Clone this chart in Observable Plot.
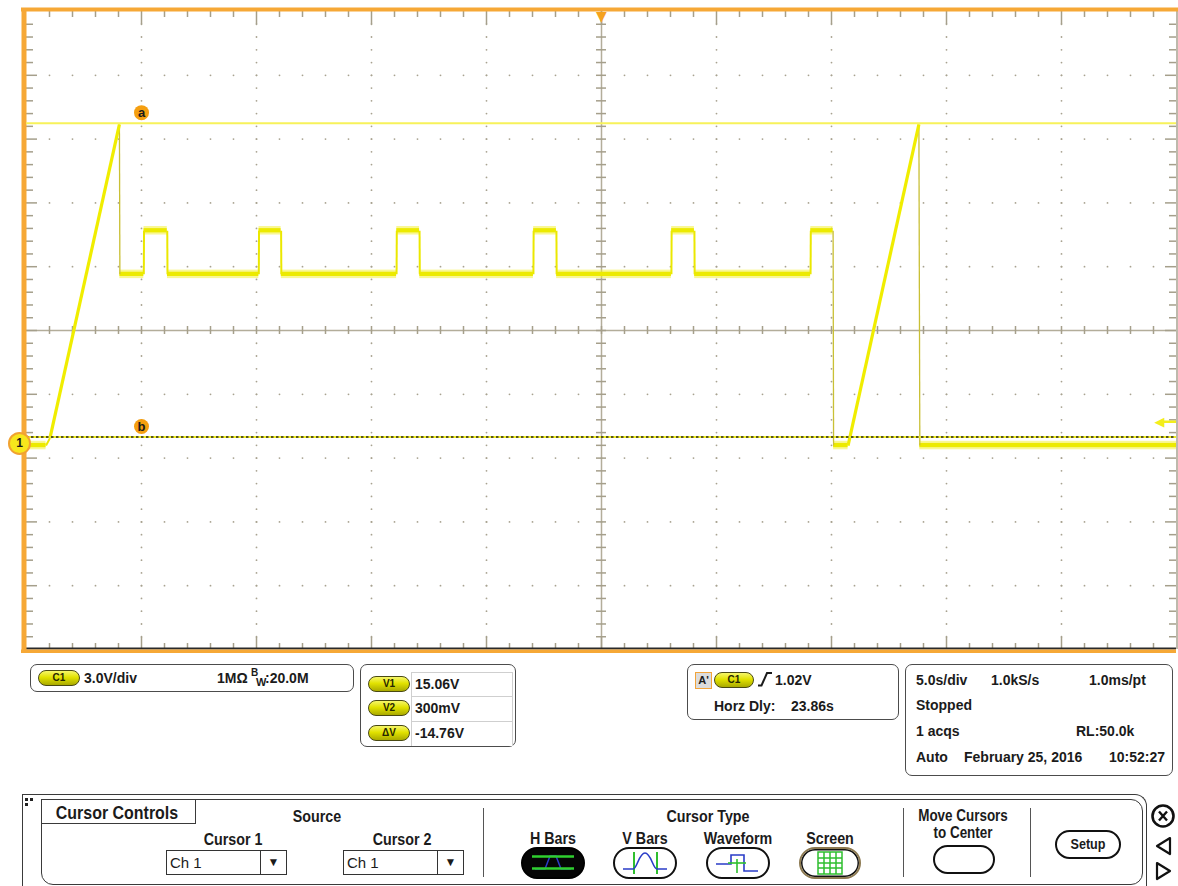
<!DOCTYPE html>
<html>
<head>
<meta charset="utf-8">
<title>Ch1 capture</title>
<script src="https://cdn.jsdelivr.net/npm/d3@7"></script>
<script src="https://cdn.jsdelivr.net/npm/@observablehq/plot@0.6"></script>
<style>
  html, body { margin:0; padding:0; background:#fff; }
  body { width:1178px; height:886px; position:relative; overflow:hidden;
         font-family:"Liberation Sans", Arial, sans-serif; font-weight:bold; color:#1b1b1b; }
  #scope { position:absolute; left:0; top:0; }
  .box { position:absolute; box-sizing:border-box; border:1.5px solid #4c4c4c; border-radius:7px; }
  .t { position:absolute; font-size:14px; line-height:14px; white-space:nowrap; }
  .pill { position:absolute; box-sizing:border-box; width:42px; height:16px; border-radius:8px;
          border:1px solid #4a4a12;
          background:linear-gradient(#f6f66a, #e2e200 45%, #aaaa00);
          font-size:10px; line-height:14px; text-align:center; color:#262600; }
  .cell { position:absolute; box-sizing:border-box; border:1px solid #cfcfcf; background:#fff; }
  .lbl { position:absolute; white-space:nowrap; transform:translateX(-50%) scaleX(0.84);
         font-size:17px; line-height:17px; }
  .btn { position:absolute; box-sizing:border-box; border:2px solid #111; border-radius:16px; background:#fff; }
  .vsep { position:absolute; width:0; border-left:1.5px solid #555; }
  .dd { position:absolute; box-sizing:border-box; border:1px solid #333; height:25px; width:121px; background:#fff;
        font-weight:normal; font-size:15px; line-height:23px; }
  .dd .arr { position:absolute; right:0; top:0; width:25px; height:23px; border-left:1px solid #333;
             text-align:center; font-size:12px; font-weight:bold; }
  svg.icon { position:absolute; overflow:visible; }
</style>
</head>
<body>
<div id="scope"></div>

<!-- channel readout -->
<div class="box" style="left:30px;top:664px;width:324px;height:28px"></div>
<div class="pill" style="left:38px;top:670px">C1</div>
<div class="t" style="left:84px;top:671px">3.0V/div</div>
<div class="t" style="left:217px;top:671px">1MΩ</div>
<div class="t" style="left:251px;top:666px;font-size:10px">B</div>
<div class="t" style="left:256px;top:675px;font-size:11px">W</div>
<div class="t" style="left:265px;top:671px">:20.0M</div>

<!-- cursor readout -->
<div class="box" style="left:360px;top:664px;width:156px;height:83px"></div>
<div class="cell" style="left:411px;top:672px;width:102px;height:25px"></div>
<div class="cell" style="left:411px;top:696px;width:102px;height:26px"></div>
<div class="cell" style="left:411px;top:721px;width:102px;height:25px;border-bottom:none"></div>
<div class="pill" style="left:368px;top:676px">V1</div>
<div class="pill" style="left:368px;top:700px">V2</div>
<div class="pill" style="left:368px;top:725px">ΔV</div>
<div class="t" id="rv1" style="left:415px;top:677px"></div>
<div class="t" id="rv2" style="left:415px;top:701px"></div>
<div class="t" id="rdv" style="left:415px;top:726px"></div>

<!-- trigger readout -->
<div class="box" style="left:687px;top:664px;width:212px;height:56px"></div>
<div style="position:absolute;left:695px;top:672px;width:17px;height:17px;box-sizing:border-box;border:1.5px solid #f2a43a;background:#dcdcdc;font-size:11px;line-height:14px;text-align:center">A'</div>
<div class="pill" style="left:714px;top:672px;width:40px">C1</div>
<svg class="icon" style="left:757px;top:671px" width="16" height="16"><path d="M1,14.5 H4.5 L10,2 H15" fill="none" stroke="#1b1b1b" stroke-width="2"/></svg>
<div class="t" id="rtrig" style="left:775px;top:673px"></div>
<div class="t" style="left:714px;top:699px">Horz Dly:</div>
<div class="t" style="left:791px;top:699px">23.86s</div>

<!-- acquisition readout -->
<div class="box" style="left:905px;top:664px;width:268px;height:112px"></div>
<div class="t" style="left:916px;top:673px">5.0s/div</div>
<div class="t" style="left:991px;top:673px">1.0kS/s</div>
<div class="t" style="left:1089px;top:673px">1.0ms/pt</div>
<div class="t" style="left:916px;top:698px">Stopped</div>
<div class="t" style="left:916px;top:724px">1 acqs</div>
<div class="t" style="left:1076px;top:724px">RL:50.0k</div>
<div class="t" style="left:916px;top:750px">Auto</div>
<div class="t" style="left:964px;top:750px">February 25, 2016</div>
<div class="t" style="left:1109px;top:750px">10:52:27</div>

<!-- cursor control panel -->
<div style="position:absolute;left:22px;top:794px;width:1125px;height:130px;box-sizing:border-box;border:1.5px solid #3a3a3a;border-bottom:none;border-top-right-radius:12px"></div>
<div style="position:absolute;left:41px;top:799px;width:1102px;height:86px;box-sizing:border-box;border:1px solid #3a3a3a;border-radius:0 12px 12px 12px"></div>
<div style="position:absolute;left:25px;top:798px;width:3px;height:3px;background:#222"></div>
<div style="position:absolute;left:30px;top:798px;width:3px;height:3px;background:#222"></div>
<div style="position:absolute;left:25px;top:803px;width:3px;height:3px;background:#222"></div>
<div style="position:absolute;left:41px;top:799px;width:155px;height:25px;box-sizing:border-box;border:1px solid #3a3a3a;border-top:none"></div>
<div class="lbl" style="left:117px;top:803px;font-size:19px;line-height:19px">Cursor Controls</div>

<div class="lbl" style="left:317px;top:808px">Source</div>
<div class="lbl" style="left:233px;top:831px">Cursor 1</div>
<div class="lbl" style="left:402px;top:831px">Cursor 2</div>
<div class="dd" style="left:166px;top:850px"><span style="padding-left:3px">Ch 1</span><div class="arr">▼</div></div>
<div class="dd" style="left:343px;top:850px"><span style="padding-left:3px">Ch 1</span><div class="arr">▼</div></div>
<div class="vsep" style="left:483px;top:808px;height:69px"></div>

<div class="lbl" style="left:708px;top:808px">Cursor Type</div>
<div class="lbl" style="left:553px;top:830px">H Bars</div>
<div class="lbl" style="left:645px;top:830px">V Bars</div>
<div class="lbl" style="left:738px;top:830px">Waveform</div>
<div class="lbl" style="left:830px;top:830px">Screen</div>

<div class="btn" style="left:521px;top:847px;width:64px;height:32px;background:#050505;border-color:#000"></div>
<svg class="icon" style="left:521px;top:847px" width="64" height="32">
  <path d="M14,22 L24,22 L29,9 L35,9 L40,22 L50,22" fill="none" stroke="#2a3cc8" stroke-width="1.5"/>
  <line x1="11" y1="9.5" x2="53" y2="9.5" stroke="#2fd02f" stroke-width="2.5"/>
  <line x1="11" y1="21.5" x2="53" y2="21.5" stroke="#2fd02f" stroke-width="2.5"/>
</svg>
<div class="btn" style="left:613px;top:847px;width:64px;height:32px"></div>
<svg class="icon" style="left:613px;top:847px" width="64" height="32">
  <line x1="21" y1="5" x2="21" y2="27" stroke="#2fbf2f" stroke-width="2"/>
  <line x1="44" y1="5" x2="44" y2="27" stroke="#2fbf2f" stroke-width="2"/>
  <path d="M10,22 L20,22 C24,22 26,6 32,6 C38,6 40,22 44,22 L54,22" fill="none" stroke="#2a3cc8" stroke-width="1.6"/>
</svg>
<div class="btn" style="left:706px;top:847px;width:64px;height:32px"></div>
<svg class="icon" style="left:706px;top:847px" width="64" height="32">
  <path d="M10,17 L25,17 L25,8 L38,8 L38,24 L52,24" fill="none" stroke="#2a3cc8" stroke-width="1.6"/>
  <line x1="31" y1="12" x2="31" y2="26" stroke="#2fbf2f" stroke-width="1.6"/>
  <line x1="22" y1="16" x2="40" y2="16" stroke="#2fbf2f" stroke-width="1.6"/>
</svg>
<div class="btn" style="left:799px;top:847px;width:62px;height:32px;border:2.5px solid #8d7a52;box-shadow:inset 0 0 0 1.5px #111"></div>
<svg class="icon" style="left:799px;top:847px" width="62" height="32">
  <rect x="19" y="5" width="24" height="22" fill="#fff" stroke="#2fbf2f" stroke-width="1.5"/>
  <path d="M25,5 V27 M31,5 V27 M37,5 V27 M19,11 H43 M19,16 H43 M19,21 H43" stroke="#2fbf2f" stroke-width="1.5"/>
</svg>
<div class="vsep" style="left:903px;top:808px;height:69px"></div>

<div class="lbl" style="left:963px;top:807px;font-size:16px">Move Cursors</div>
<div class="lbl" style="left:963px;top:824px;font-size:16px">to Center</div>
<div class="btn" style="left:933px;top:845px;width:62px;height:29px"></div>
<div class="vsep" style="left:1030px;top:808px;height:69px"></div>
<div class="btn" style="left:1055px;top:830px;width:66px;height:29px;border-radius:15px"></div>
<div class="lbl" style="left:1088px;top:836px;font-size:15px;line-height:15px">Setup</div>

<svg class="icon" style="left:1150px;top:803px" width="26" height="82">
  <circle cx="13" cy="13" r="10.5" fill="#fff" stroke="#111" stroke-width="2.6"/>
  <path d="M9,8.5 L17,17.5 M17,8.5 L9,17.5" stroke="#111" stroke-width="2.4"/>
  <path d="M20,35 L7,43 L20,51 Z" fill="#fff" stroke="#111" stroke-width="2.2" stroke-linejoin="round"/>
  <path d="M7,60 L20,68 L7,76 Z" fill="#fff" stroke="#111" stroke-width="2.2" stroke-linejoin="round"/>
</svg>

<script>
// Channel 1 record: time (s from left graticule edge) and volts at each corner of the waveform
const traceTime  = [0, 0.85, 1.02, 4.04, 4.06, 5.10, 5.11, 6.12, 6.13, 10.10, 10.11, 11.07, 11.08,
                    16.09, 16.10, 17.09, 17.10, 22.04, 22.05, 23.04, 23.05, 28.04, 28.05, 29.04, 29.05,
                    34.09, 34.10, 35.07, 35.09, 35.72, 38.80, 38.84, 50];
const traceVolts = [-0.1, -0.1, 0.25, 15.0, 7.95, 7.95, 10.0, 10.0, 7.95, 7.95, 10.0, 10.0, 7.95,
                    7.95, 10.0, 10.0, 7.95, 7.95, 10.0, 10.0, 7.95, 7.95, 10.0, 10.0, 7.95,
                    7.95, 10.0, 10.0, -0.1, -0.1, 15.0, -0.1, -0.1];

// H-bar cursors and trigger
const cursorNames = ["a", "b"];
const cursorVolts = [15.06, 0.30];
const triggerLevel = 1.02;

// Vertical / horizontal settings
const voltsPerDiv = 3.0;
const secPerDiv = 5.0;
const centerVolts = 5.31;   // ground marker sits 1.77 div below screen centre
const noiseHalf = 0.2;      // half height of the acquisition noise band, V

const yLo = centerVolts - 5 * voltsPerDiv, yHi = centerVolts + 5 * voltsPerDiv;
const tLo = 0, tHi = 10 * secPerDiv, tMid = 5 * secPerDiv;

// graticule positions
const majorT = d3.range(11).map(i => i * secPerDiv);
const minorT = d3.range(51).map(i => i * secPerDiv / 5);
const majorV = d3.range(11).map(i => yLo + i * voltsPerDiv);
const minorV = d3.range(51).map(i => yLo + i * voltsPerDiv / 5);

const pxPerV = 638 / (10 * voltsPerDiv);
const pxPerS = 1150 / (10 * secPerDiv);
const vLen = px => px / pxPerV;
const tLen = px => px / pxPerS;

const gridDots = [];
majorT.forEach((t, i) => { if (i > 0 && i < 10 && i !== 5)
  minorV.forEach((v, j) => { if (j > 0 && j < 50) gridDots.push({t, v}); }); });
majorV.forEach((v, i) => { if (i > 0 && i < 10 && i !== 5)
  minorT.forEach((t, j) => { if (j > 0 && j < 50) gridDots.push({t, v}); }); });

const tTicks = minorT.slice(1, -1).map((t, j) => ({t, major: (j + 1) % 5 === 0}));
const vTicks = minorV.slice(1, -1).map((v, j) => ({v, major: (j + 1) % 5 === 0}));

// waveform segments
const pts = traceTime.map((t, i) => ({t, v: traceVolts[i]}));
const segs = d3.pairs(pts).map(([a, b]) => {
  const dv = b.v - a.v, dt = b.t - a.t;
  let kind = "edge";
  if (Math.abs(dv) < 1e-9) kind = "flat";
  else if (dv > 1 && dt > 0.5) kind = "ramp";
  else if (dv < -5) kind = "drop";
  return {t1: a.t, v1: a.v, t2: b.t, v2: b.v, kind};
});
const seg = k => segs.filter(d => d.kind === k);
const linkOpts = {x1: "t1", y1: "v1", x2: "t2", y2: "v2"};

const cursors = cursorNames.map((name, i) => ({name, v: cursorVolts[i]}));
const tickColor = "#a59f8b";
const font = "Liberation Sans, Arial, sans-serif";

const chart = Plot.plot({
  width: 1178,
  height: 655,
  marginLeft: 26, marginRight: 2, marginTop: 11, marginBottom: 6,
  x: {domain: [tLo, tHi], axis: null},
  y: {domain: [yLo, yHi], axis: null},
  style: {background: "#fff", overflow: "visible"},
  marks: [
    // graticule
    Plot.dot(gridDots, {x: "t", y: "v", r: 0.9, fill: "#a8a290"}),
    Plot.ruleX([tMid], {stroke: "#b3ad9a", strokeWidth: 1.5}),
    Plot.ruleY([centerVolts], {stroke: "#b3ad9a", strokeWidth: 1.5}),
    Plot.ruleX(tTicks, {x: "t", y1: centerVolts - vLen(4), y2: centerVolts + vLen(4), stroke: tickColor, strokeWidth: 1.5}),
    Plot.ruleY(vTicks, {y: "v", x1: tMid - tLen(5), x2: tMid + tLen(5), stroke: tickColor, strokeWidth: 1.5}),
    Plot.ruleX(tTicks, {x: "t", y1: yHi, y2: d => yHi - vLen(d.major ? 13 : 6), stroke: tickColor, strokeWidth: 1.5}),
    Plot.ruleX(tTicks, {x: "t", y1: yLo, y2: d => yLo + vLen(d.major ? 12 : 6), stroke: tickColor, strokeWidth: 1.5}),
    Plot.ruleY(vTicks, {y: "v", x1: tLo, x2: d => tLo + tLen(d.major ? 11 : 7), stroke: tickColor, strokeWidth: 1.5}),
    Plot.ruleY(vTicks, {y: "v", x1: tHi, x2: d => tHi - tLen(d.major ? 11 : 7), stroke: tickColor, strokeWidth: 1.5}),
    Plot.ruleX([tHi], {stroke: "#a8a290", strokeWidth: 1.5, dx: 0.5}),
    Plot.ruleY([yLo], {stroke: "#2a2a2a", strokeWidth: 2, dy: -1}),
    Plot.ruleY([yLo], {stroke: "#f6a836", strokeWidth: 3.5, dy: 1.8, insetLeft: -5}),
    Plot.ruleY([yHi], {stroke: "#f6a836", strokeWidth: 4, dy: -2, insetLeft: -5, insetRight: -2}),
    Plot.ruleX([tLo], {stroke: "#f6a836", strokeWidth: 5, dx: -2.5, insetTop: -3, insetBottom: -4}),

    // waveform: noise envelope on the settled levels, then the trace itself
    Plot.rect(seg("flat"), {x1: "t1", x2: "t2", y1: d => d.v1 - noiseHalf, y2: d => d.v1 + noiseHalf, fill: "#f3ef2a", fillOpacity: 0.5}),
    Plot.rect(seg("flat"), {x1: "t1", x2: "t2", y1: d => d.v1 - noiseHalf / 2, y2: d => d.v1 + noiseHalf / 2, fill: "#ecea00"}),
    Plot.link(seg("drop"), {...linkOpts, stroke: "#c9c035", strokeWidth: 1.3}),
    Plot.link(seg("edge"), {...linkOpts, stroke: "#ebe800", strokeWidth: 2}),
    Plot.link(seg("ramp"), {...linkOpts, stroke: "#f0ed00", strokeWidth: 3.2}),

    // H-bar cursors
    Plot.ruleY(cursors.slice(0, 1), {y: "v", stroke: "#f7f25a", strokeWidth: 2}),
    Plot.ruleY(cursors.slice(1), {y: "v", stroke: "#f2ee20", strokeWidth: 2}),
    Plot.ruleY(cursors.slice(1), {y: "v", stroke: "#222", strokeWidth: 1.6, strokeDasharray: "2.5,2.5"}),
    Plot.dot(cursors, {x: () => majorT[1], y: "v", dy: -10.5, r: 7.5, fill: "#f59f10"}),
    Plot.text(cursors, {x: () => majorT[1], y: "v", dy: -10, text: "name", fill: "#1a1a1a", fontSize: 13, fontWeight: "bold", fontFamily: font}),

    // ground reference marker, trigger level and trigger position
    Plot.dot([0], {x: () => tLo, y: d => d, dx: -7, r: 10.5, fill: "#f7e71c", stroke: "#f1a231", strokeWidth: 2}),
    Plot.text([0], {x: () => tLo, y: d => d, dx: -7, text: () => "1", fill: "#1a1a1a", fontSize: 12, fontWeight: "bold", fontFamily: font}),
    Plot.ruleY([triggerLevel], {y: d => d, x1: () => tHi - tLen(12), x2: () => tHi, stroke: "#f3ee1c", strokeWidth: 2.5}),
    Plot.text([triggerLevel], {x: () => tHi, y: d => d, dx: -17, text: () => "◀", fill: "#f3ee1c", fontSize: 13, fontFamily: "DejaVu Sans"}),
    Plot.text([tMid], {x: d => d, y: () => yHi, dy: 5.5, text: () => "▼", fill: "#f5a21e", fontSize: 14, fontFamily: "DejaVu Sans"})
  ]
});
document.getElementById("scope").append(chart);

// readouts derived from the cursor / trigger values
const fmtV = v => Math.abs(v) < 1 ? `${Math.round(v * 1000)}mV` : `${v.toFixed(2)}V`;
document.getElementById("rv1").textContent = fmtV(cursorVolts[0]);
document.getElementById("rv2").textContent = fmtV(cursorVolts[1]);
document.getElementById("rdv").textContent = fmtV(cursorVolts[1] - cursorVolts[0]);
document.getElementById("rtrig").textContent = fmtV(triggerLevel);
</script>
</body>
</html>
